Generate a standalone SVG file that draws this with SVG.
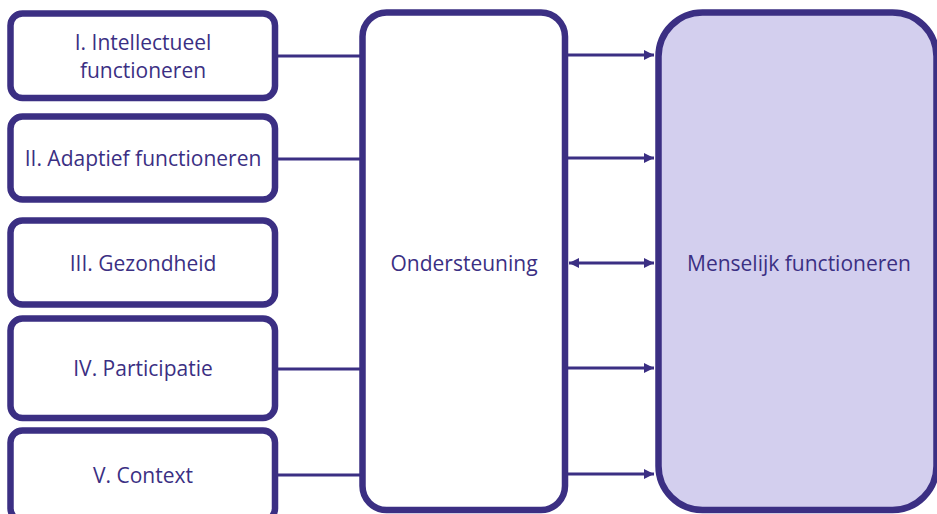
<svg xmlns="http://www.w3.org/2000/svg" width="937" height="514" viewBox="0 0 937 514">
<style>
.box{fill:#ffffff;stroke:#3B2F83;stroke-width:6.5}
.big{fill:#D3CFEE;stroke:#3B2F83;stroke-width:6.5}
.lbl{font-family:"Open Sans","Liberation Sans",sans-serif;font-size:21px;fill:#3B2F83;text-anchor:middle}
.con{stroke:#3B2F83;stroke-width:3.2;fill:none}
</style>
<defs>
<marker id="ah" viewBox="0 0 10 10" refX="10" refY="5" markerWidth="10" markerHeight="10" markerUnits="userSpaceOnUse" orient="auto-start-reverse">
<path d="M0,0 L10,5 L0,10 Z" fill="#3B2F83"/>
</marker>
</defs>
<g id="connectors">
<line class="con" x1="277" y1="56" x2="361" y2="56"/>
<line class="con" x1="277" y1="159" x2="361" y2="159"/>
<line class="con" x1="277" y1="369" x2="361" y2="369"/>
<line class="con" x1="277" y1="475" x2="361" y2="475"/>
<line class="con" x1="567" y1="55" x2="654" y2="55" marker-end="url(#ah)"/>
<line class="con" x1="567" y1="158" x2="654" y2="158" marker-end="url(#ah)"/>
<line class="con" x1="569" y1="263" x2="654" y2="263" marker-start="url(#ah)" marker-end="url(#ah)"/>
<line class="con" x1="567" y1="368" x2="654" y2="368" marker-end="url(#ah)"/>
<line class="con" x1="567" y1="474" x2="654" y2="474" marker-end="url(#ah)"/>
</g>
<g id="n1">
<rect class="box" x="10.5" y="13.5" width="264.5" height="84.5" rx="12"/>
<text class="lbl" x="143" y="50">I. Intellectueel</text>
<text class="lbl" x="143" y="78">functioneren</text>
</g>
<g id="n2">
<rect class="box" x="10.5" y="116.5" width="264.5" height="83" rx="12"/>
<text class="lbl" x="143" y="166">II. Adaptief functioneren</text>
</g>
<g id="n3">
<rect class="box" x="10.5" y="220.5" width="264.5" height="84" rx="12"/>
<text class="lbl" x="143" y="271">III. Gezondheid</text>
</g>
<g id="n4">
<rect class="box" x="10.5" y="318.5" width="264.5" height="99.5" rx="12"/>
<text class="lbl" x="143" y="376">IV. Participatie</text>
</g>
<g id="n5">
<rect class="box" x="10.5" y="430.5" width="264.5" height="90" rx="12"/>
<text class="lbl" x="143" y="483">V. Context</text>
</g>
<g id="ondersteuning">
<rect class="box" x="362.5" y="12.5" width="202.5" height="497.5" rx="24"/>
<text class="lbl" x="464" y="271">Ondersteuning</text>
</g>
<g id="menselijk">
<rect class="big" x="658.5" y="12.5" width="278" height="497.5" rx="44"/>
<text class="lbl" x="799" y="271">Menselijk functioneren</text>
</g>
</svg>
